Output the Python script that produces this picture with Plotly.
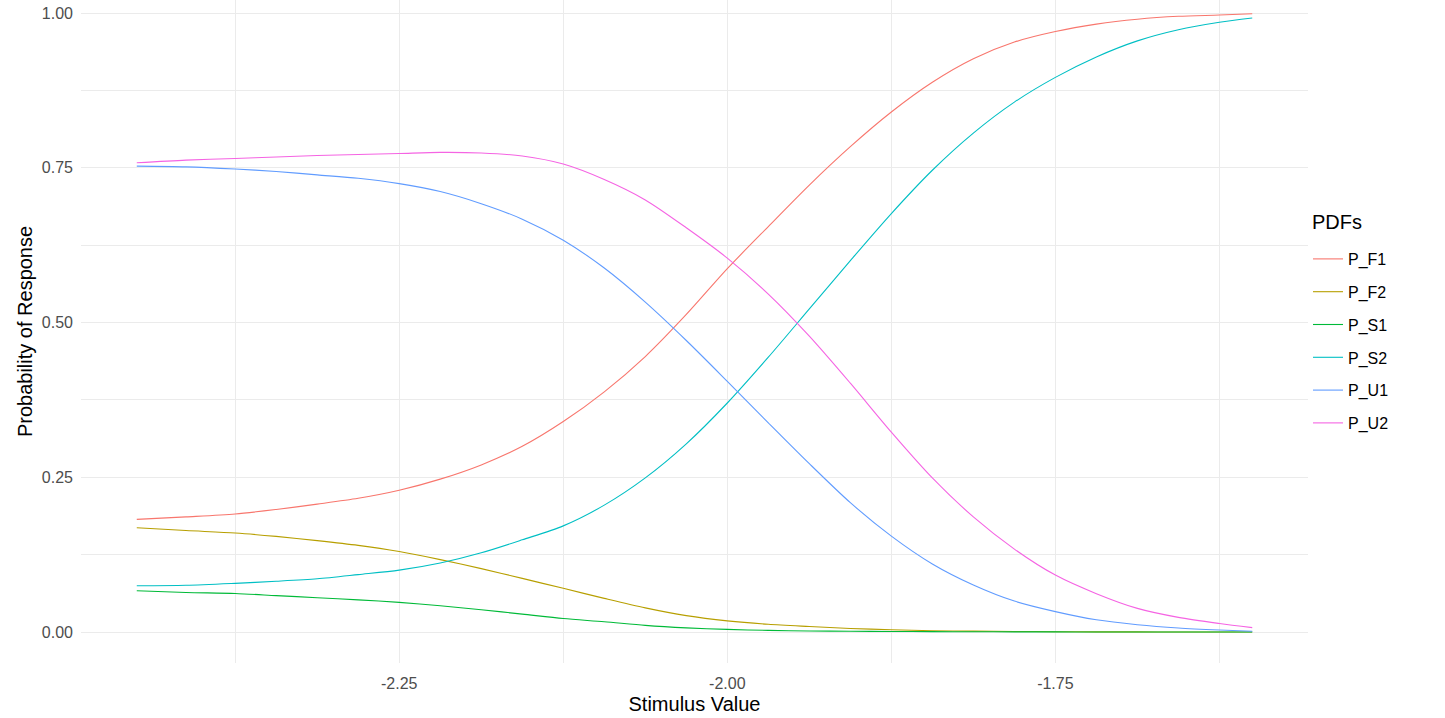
import plotly.graph_objects as go

stimulus = [-2.45, -2.4125, -2.375, -2.34375, -2.3125, -2.28125, -2.25, -2.21875,
            -2.1875, -2.15625, -2.125, -2.09375, -2.0625, -2.03125, -2.0, -1.96875,
            -1.9375, -1.90625, -1.875, -1.84375, -1.8125, -1.78125, -1.75, -1.71875,
            -1.6875, -1.65625, -1.625, -1.60]

P_F1 = [0.182, 0.186, 0.1907, 0.198, 0.2066, 0.216, 0.229, 0.247,
        0.270, 0.300, 0.340, 0.388, 0.445, 0.513, 0.587, 0.655,
        0.722, 0.784, 0.840, 0.888, 0.926, 0.953, 0.970, 0.982,
        0.990, 0.9947, 0.9967, 0.9987]
P_F2 = [0.1686, 0.164, 0.160, 0.1545, 0.1477, 0.140, 0.130, 0.117,
        0.1025, 0.0867, 0.0706, 0.0544, 0.039, 0.0265, 0.018, 0.0125,
        0.009, 0.0058, 0.0037, 0.0022, 0.0015, 0.0010, 0.0006, 0.0003,
        0.0002, 0.0001, 0.0, 0.0]
P_S1 = [0.0668, 0.064, 0.0623, 0.0589, 0.0555, 0.052, 0.048, 0.0425,
        0.036, 0.029, 0.0218, 0.0167, 0.0108, 0.0068, 0.0043, 0.0027,
        0.0018, 0.0013, 0.001, 0.0007, 0.0005, 0.0003, 0.0002, 0.0001,
        0.0001, 0.0, 0.0, 0.0]
P_S2 = [0.0747, 0.0755, 0.0787, 0.082, 0.086, 0.0928, 0.100, 0.1115,
        0.128, 0.149, 0.1715, 0.205, 0.249, 0.304, 0.370, 0.444,
        0.522, 0.600, 0.676, 0.746, 0.806, 0.856, 0.896, 0.929,
        0.955, 0.973, 0.985, 0.992]
P_U1 = [0.7527, 0.7515, 0.748, 0.744, 0.7385, 0.733, 0.7244, 0.7116,
        0.692, 0.667, 0.633, 0.588, 0.533, 0.471, 0.405, 0.338,
        0.272, 0.209, 0.155, 0.110, 0.076, 0.050, 0.033, 0.0198,
        0.0119, 0.0066, 0.0033, 0.0013]
P_U2 = [0.758, 0.7623, 0.765, 0.7674, 0.7697, 0.7714, 0.773, 0.7748,
        0.7738, 0.769, 0.756, 0.731, 0.698, 0.653, 0.604, 0.546,
        0.478, 0.402, 0.323, 0.249, 0.186, 0.134, 0.092, 0.062,
        0.0382, 0.0237, 0.0138, 0.0072]

series_names = ["P_F1", "P_F2", "P_S1", "P_S2", "P_U1", "P_U2"]
series_values = [P_F1, P_F2, P_S1, P_S2, P_U1, P_U2]
colors = ["#F8766D", "#B79F00", "#00BA38", "#00BFC4", "#619CFF", "#F564E3"]
legend_title = "PDFs"

x_tick_vals = [-2.25, -2.0, -1.75]
x_tick_text = ["-2.25", "-2.00", "-1.75"]
x_minor_vals = [-2.375, -2.125, -1.875, -1.625]
y_tick_vals = [0, 0.25, 0.5, 0.75, 1.0]
y_tick_text = ["0.00", "0.25", "0.50", "0.75", "1.00"]
y_minor_vals = [0.125, 0.375, 0.625, 0.875]

fig = go.Figure()
for name, vals, col in zip(series_names, series_values, colors):
    fig.add_trace(go.Scatter(
        x=stimulus, y=vals, mode="lines", name=name, legendgroup=name,
        line=dict(color=col, width=1.1, shape="spline", smoothing=0.8),
    ))

grid_major = "#EBEBEB"
fig.update_layout(
    width=1445, height=718,
    margin=dict(l=81, r=137, t=0, b=55),
    paper_bgcolor="white", plot_bgcolor="white",
    font=dict(family="Liberation Sans, Arial, sans-serif", color="#4D4D4D", size=16),
    showlegend=True,
    legend=dict(
        font=dict(size=16, color="#000000"),
        x=1.0, xanchor="left", y=0.635, yanchor="top",
        tracegroupgap=9, itemwidth=30,
        bgcolor="rgba(0,0,0,0)",
    ),
    annotations=[dict(
        text=legend_title, xref="paper", yref="paper",
        x=1.0016, y=1 - 222 / 663, xanchor="left", yanchor="middle",
        showarrow=False, font=dict(size=20, color="#000000"),
    )],
    xaxis=dict(
        range=[-2.4925, -1.5575], automargin=False,
        tickmode="array", tickvals=x_tick_vals, ticktext=x_tick_text,
        showgrid=True, gridcolor=grid_major, gridwidth=1.1,
        minor=dict(tickmode="array", tickvals=x_minor_vals,
                   showgrid=True, gridcolor=grid_major, gridwidth=0.6),
        zeroline=False, showline=False, ticks="",
        ticklabelstandoff=9,
        tickfont=dict(size=16, color="#4D4D4D"),
        title=dict(text="Stimulus Value", font=dict(size=20, color="#000000"), standoff=5),
    ),
    yaxis=dict(
        range=[-0.05, 1.021], automargin=False,
        tickmode="array", tickvals=y_tick_vals, ticktext=y_tick_text,
        showgrid=True, gridcolor=grid_major, gridwidth=1.1,
        minor=dict(tickmode="array", tickvals=y_minor_vals,
                   showgrid=True, gridcolor=grid_major, gridwidth=0.6),
        zeroline=False, showline=False, ticks="",
        ticklabelstandoff=7,
        tickfont=dict(size=16, color="#4D4D4D"),
        title=dict(text="Probability of Response", font=dict(size=20, color="#000000"), standoff=3),
    ),
)

fig.write_html("out.html")
